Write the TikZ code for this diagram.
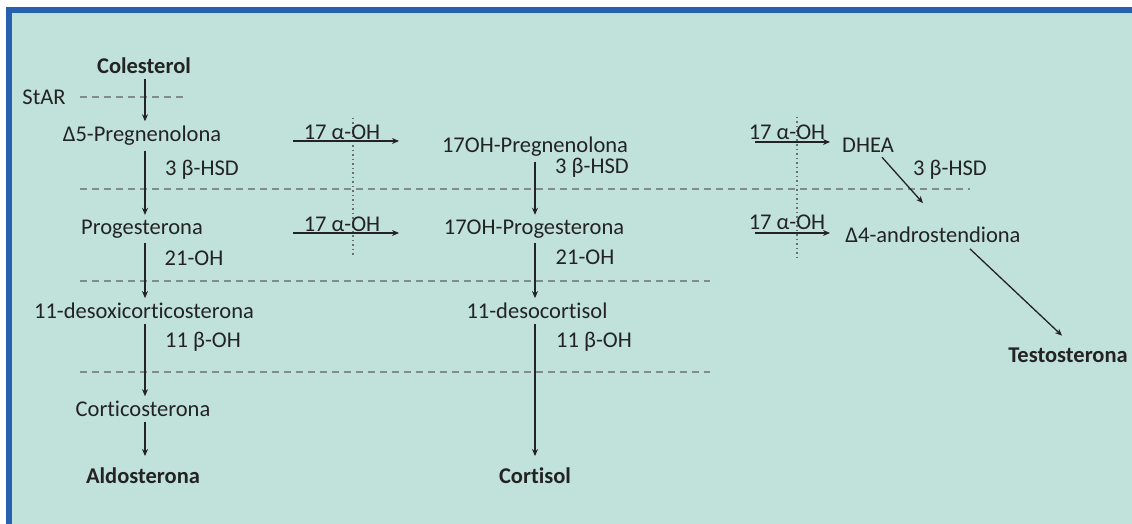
\documentclass[tikz,border=0pt]{standalone}
\usepackage{fontspec}
\setmainfont{Carlito}[Ligatures=NoCommon]
\usetikzlibrary{arrows.meta}
\definecolor{bgteal}{RGB}{192,226,218}
\definecolor{frameblue}{RGB}{40,96,176}
\definecolor{txt}{RGB}{35,35,35}
\definecolor{dashgray}{RGB}{130,140,138}
\tikzset{
  lbl/.style={inner sep=0pt, outer sep=0pt, text=txt, font=\fontsize{22.5}{26}\selectfont},
  mol/.style={lbl, inner ysep=5pt},
  bmol/.style={mol, font=\fontsize{22.5}{26}\selectfont\bfseries},
  arr/.style={draw=txt, line width=1.3pt, -{Stealth[length=7pt,width=6pt]}},
  sep/.style={draw=dashgray, line width=1.2pt, dash pattern=on 7pt off 5pt},
  vsep/.style={draw=dashgray!80!black, line width=1.2pt, dash pattern=on 1.5pt off 3pt},
}
\begin{document}
\begin{tikzpicture}[x=1pt,y=-1pt]
\useasboundingbox (0,0) rectangle (1132,524);
\fill[white] (0,0) rectangle (1132,524);
\fill[bgteal] (6,7) rectangle (1132,524);
\fill[frameblue] (6,7) rectangle (1132,13);
\fill[frameblue] (6,7) rectangle (12,524);

% column x positions
\coordinate (L) at (145,0);
\coordinate (M) at (535,0);

% separators
\draw[sep] (80,97) -- (187,97);
\draw[sep] (80,189) -- (970,189);
\draw[sep] (80,281) -- (710,281);
\draw[sep] (80,372) -- (710,372);
\draw[vsep] (353,118) -- (353,257);
\draw[vsep] (797,117) -- (797,257);

% left column
\node[bmol] (col) at (144,66) {Colesterol};
\node[lbl] (star) at (44,97) {StAR};
\node[mol] (preg) at (142,136) {Δ5-Pregnenolona};
\node[lbl] (hsd1) at (202,170) {3 β-HSD};
\node[mol] (prog) at (142,229) {Progesterona};
\node[lbl] (oh21a) at (194,258) {21-OH};
\node[mol] (doc) at (144,311) {11-desoxicorticosterona};
\node[lbl] (oh11a) at (203,342) {11 β-OH};
\node[mol] (cort) at (143,409) {Corticosterona};
\node[bmol] (aldo) at (143,476) {Aldosterona};

% middle column
\node[mol] (ohpreg) at (535,147) {17OH-Pregnenolona};
\node[lbl] (hsd2) at (592,168) {3 β-HSD};
\node[mol] (ohprog) at (534,229) {17OH-Progesterona};
\node[lbl] (oh21b) at (585,257) {21-OH};
\node[mol] (deso) at (537,311) {11-desocortisol};
\node[lbl] (oh11b) at (594,342) {11 β-OH};
\node[bmol] (cortisol) at (535,476) {Cortisol};

% right column
\node[mol] (dhea) at (868,145) {DHEA};
\node[lbl] (hsd3) at (950,170) {3 β-HSD};
\node[mol] (andro) at (933,235) {Δ4-androstendiona};
\node[bmol] (testo) at (1068,355) {Testosterona};

% 17 alpha-OH labels
\node[lbl] (a1) at (342,132) {17 α-OH};
\node[lbl] (a2) at (342,224) {17 α-OH};
\node[lbl] (a3) at (787,132) {17 α-OH};
\node[lbl] (a4) at (787,222) {17 α-OH};
\coordinate (a1s) at (293,141); \coordinate (a1e) at (399,141);
\coordinate (a2s) at (293,233); \coordinate (a2e) at (399,233);
\coordinate (a3s) at (755,142); \coordinate (a3e) at (830,142);
\coordinate (a4s) at (755,233); \coordinate (a4e) at (830,233);
\draw[arr] (a1s) -- (a1e);
\draw[arr] (a2s) -- (a2e);
\draw[arr] (a3s) -- (a3e);
\draw[arr] (a4s) -- (a4e);

% vertical arrows left
\draw[arr] (col.south -| L) -- (preg.north -| L);
\draw[arr] (preg.south -| L) -- (prog.north -| L);
\draw[arr] (prog.south -| L) -- (doc.north -| L);
\draw[arr] (doc.south -| L) -- (cort.north -| L);
\draw[arr] (cort.south -| L) -- ([yshift=7pt]aldo.north -| L);

% vertical arrows middle
\draw[arr] (ohpreg.south -| M) -- (ohprog.north -| M);
\draw[arr] (ohprog.south -| M) -- (deso.north -| M);
\draw[arr] (deso.south -| M) -- ([yshift=7pt]cortisol.north -| M);

% diagonal arrows right
\draw[arr] ([xshift=14pt]dhea.south) -- ([xshift=-10pt,yshift=19pt]andro.north);
\draw[arr] ([xshift=37pt,yshift=-1pt]andro.south) -- ([xshift=-6pt,yshift=7pt]testo.north);
\end{tikzpicture}
\end{document}
